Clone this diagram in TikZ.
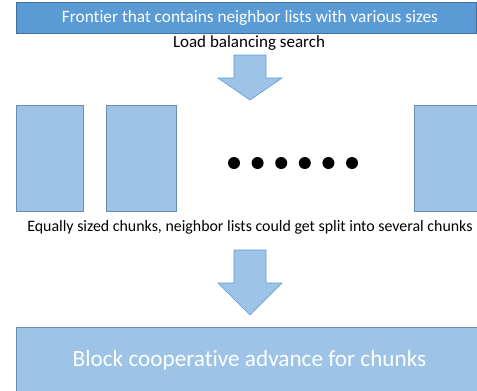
\documentclass[tikz,border=0pt]{standalone}
\usepackage{fontspec}
\setmainfont[Ligatures=NoCommon]{Carlito}
\definecolor{darkblue}{HTML}{5B9BD5}
\definecolor{lightblue}{HTML}{9DC3E6}
\definecolor{edgeblue}{HTML}{41719C}
\definecolor{arrowedge}{HTML}{5B9BD5}
\tikzset{
  topbox/.style={draw=edgeblue, fill=darkblue, line width=0.8pt},
  chunk/.style={draw=edgeblue!80, fill=lightblue, line width=0.6pt},
  bigbox/.style={draw=edgeblue!80, fill=lightblue, line width=0.8pt},
  blockarrow/.style={draw=arrowedge, fill=lightblue, line width=0.6pt, line join=miter},
  dot/.style={fill=black},
  lbl/.style={text=black, inner sep=0pt}
}
\begin{document}
\begin{tikzpicture}[x=1pt,y=-1pt]
\useasboundingbox (0,0) rectangle (477,391);
\clip (0,0) rectangle (477,391);
% top box
\draw[topbox] (16,2) rectangle (476,33);
\node[text=white, inner sep=0pt, font=\fontsize{17.3}{20}\selectfont] (top) at (250,17.5) {Frontier that contains neighbor lists with various sizes};
\node[lbl, font=\fontsize{17}{20}\selectfont] (lbs) at (249,43) {Load balancing search};
% arrow 1
\draw[blockarrow] (234,55) -- (266,55) -- (266,78) -- (282,78) -- (250,100) -- (218,78) -- (234,78) -- cycle;
% chunks
\draw[chunk] (16,105) rectangle (83,211);
\draw[chunk] (106,105) rectangle (176,211);
\draw[chunk] (414,105) rectangle (480,211);
\foreach \x in {234,257.6,281.2,304.8,328.4,352} \fill[dot] (\x,163) circle (6);
\node[lbl, font=\fontsize{15.9}{18}\selectfont] (eq) at (250,227.5) {Equally sized chunks, neighbor lists could get split into several chunks};
% arrow 2
\draw[blockarrow] (234,250) -- (266,250) -- (266,283) -- (282,283) -- (250,315) -- (218,283) -- (234,283) -- cycle;
% bottom box
\draw[bigbox] (16,327) rectangle (480,395);
\node[text=white, inner sep=0pt, font=\fontsize{23.2}{27}\selectfont] (bot) at (249.5,360) {Block cooperative advance for chunks};
\end{tikzpicture}
\end{document}
